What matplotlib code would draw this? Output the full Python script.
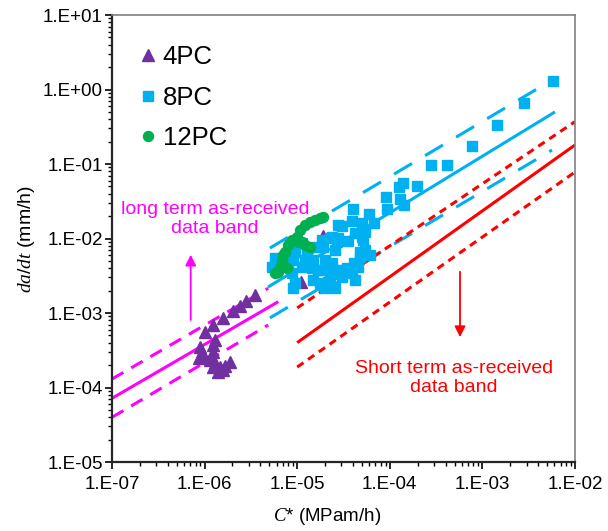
import numpy as np
import matplotlib
matplotlib.use("Agg")
import matplotlib.pyplot as plt
from matplotlib.ticker import FixedLocator, FuncFormatter, LogLocator, NullFormatter

plt.rcParams['font.family'] = ['Liberation Sans', 'DejaVu Sans']
plt.rcParams['mathtext.fontset'] = 'custom'
plt.rcParams['mathtext.it'] = 'Liberation Serif:italic'
plt.rcParams['mathtext.rm'] = 'Liberation Sans'
plt.rcParams['lines.scale_dashes'] = False

# 4PC specimens
c_4pc = [3.50e-6, 2.80e-6, 2.41e-6, 2.01e-6, 1.57e-6, 1.24e-6, 1.01e-6, 1.29e-6,
         1.24e-6, 8.9e-7, 9.3e-7, 8.8e-7, 1.24e-6, 1.19e-6, 1.29e-6, 1.24e-6,
         1.47e-6, 1.59e-6, 1.88e-6, 1.66e-6, 1.41e-6, 1.14e-6, 9.7e-7, 1.10e-5, 1.90e-5]
dadt_4pc = [1.75e-3, 1.46e-3, 1.24e-3, 1.06e-3, 8.7e-4, 7.0e-4, 5.6e-4, 4.3e-4,
            3.7e-4, 3.5e-4, 3.0e-4, 2.5e-4, 3.0e-4, 2.5e-4, 2.1e-4, 1.87e-4,
            1.87e-4, 1.72e-4, 2.18e-4, 1.94e-4, 1.63e-4, 2.34e-4, 2.6e-4, 2.6e-3, 1.08e-2]

# 8PC specimens
c_8pc = [5.74e-3, 2.79e-3, 1.45e-3, 7.65e-4, 2.79e-4, 4.18e-4, 1.38e-4, 1.26e-4,
         1.97e-4, 9.1e-5, 1.28e-4, 1.41e-4, 9.4e-5, 3.97e-5, 6.01e-5, 6.70e-5,
         3.08e-5, 3.95e-5, 5.18e-5, 3.56e-5, 4.73e-5, 4.13e-5, 3.03e-5, 2.36e-5,
         1.84e-5, 9.08e-6, 2.67e-5, 2.56e-5, 2.45e-5, 3.03e-5, 3.43e-5, 2.56e-5,
         2.0e-5, 2.17e-5, 1.69e-5, 1.49e-5, 1.27e-5, 8.35e-6, 7.71e-6, 1.12e-5,
         1.63e-5, 1.91e-5, 2.26e-5, 4.76e-5, 3.88e-5, 4.98e-5, 2.78e-5, 2.78e-5,
         4.98e-5, 5.40e-5, 1.32e-5, 9.46e-6, 9.08e-6, 1.21e-5, 2.0e-5, 2.36e-5,
         4.57e-5, 2.90e-5, 1.84e-5, 1.44e-5, 8.73e-6, 5.75e-6, 5.31e-6, 8.02e-6,
         9.46e-6, 1.49e-5, 1.76e-5, 2.26e-5, 4.21e-5, 2.36e-5, 1.84e-5, 4.21e-5,
         5.40e-5, 6.11e-5, 1.12e-5]
dadt_8pc = [1.31, 0.659, 0.329, 0.175, 0.0961, 0.0961, 0.0551, 0.0491,
            0.0514, 0.0361, 0.0341, 0.0282, 0.0251, 0.0247, 0.0215, 0.0161,
            0.0146, 0.0173, 9.6e-3, 9.3e-3, 6.5e-3, 4.76e-3, 3.78e-3, 2.25e-3,
            2.38e-3, 2.15e-3, 9.06e-3, 7.01e-3, 3.78e-3, 3.07e-3, 3.98e-3, 2.15e-3,
            2.15e-3, 2.63e-3, 3.78e-3, 5.14e-3, 7.01e-3, 8.63e-3, 6.33e-3, 4.18e-3,
            7.76e-3, 7.76e-3, 1.01e-2, 5.70e-3, 3.41e-3, 0.0160, 0.0152, 1.01e-2,
            0.0106, 7.01e-3, 7.38e-3, 6.65e-3, 5.14e-3, 5.14e-3, 5.14e-3, 4.65e-3,
            4.18e-3, 3.41e-3, 3.78e-3, 3.98e-3, 3.41e-3, 5.42e-3, 4.18e-3, 4.65e-3,
            2.51e-3, 2.77e-3, 2.51e-3, 3.07e-3, 2.77e-3, 0.0106, 9.55e-3, 0.0117,
            0.0123, 6.0e-3, 8.63e-3]

# 12PC specimens
c_12pc = [5.75e-6, 6.25e-6, 6.52e-6, 7.38e-6, 7.71e-6, 6.81e-6, 7.08e-6, 7.38e-6,
          8.0e-6, 9.9e-6, 1.03e-5, 1.07e-5, 1.21e-5, 1.37e-5, 1.56e-5, 1.76e-5,
          1.90e-5, 1.37e-5, 1.21e-5, 1.12e-5, 8.8e-6]
dadt_12pc = [3.41e-3, 3.58e-3, 4.18e-3, 4.18e-3, 3.98e-3, 5.14e-3, 6.0e-3, 6.65e-3,
             8.2e-3, 1.06e-2, 9.1e-3, 1.30e-2, 1.52e-2, 1.66e-2, 1.77e-2, 1.88e-2,
             1.96e-2, 7.7e-3, 8.2e-3, 9.1e-3, 9.5e-3]

# scatter bands: [start, end] for C* and for lower / mean / upper da/dt
lt_c = [1e-7, 6.25e-6]
lt_c_edge = [1e-7, 4.87e-6]
lt_mean = [7.16e-5, 1.42e-3]
lt_upper = [1.30e-4, 2.15e-3]
lt_lower = [3.98e-5, 6.9e-4]

pc8_c = [4.84e-6, 6.08e-3]
pc8_c_edge = [5.08e-6, 5.65e-3]
pc8_mean = [2.23e-3, 0.50]
pc8_upper = [7.45e-3, 1.34]
pc8_lower = [8.6e-4, 0.154]

st_c = [1e-5, 1e-2]
st_mean = [4.0e-4, 0.18]
st_upper = [1.17e-3, 0.37]
st_lower = [1.88e-4, 0.078]

purple = '#7030A0'
blue = '#00B0F0'
green = '#00B050'
magenta = '#FF00FF'
red = '#FF0000'

fig = plt.figure(figsize=(6.08, 5.31), dpi=100)
ax = fig.add_axes([112 / 608, 69 / 531, 463 / 608, 447 / 531])
ax.set_xscale('log')
ax.set_yscale('log')
ax.set_xlim(1e-7, 1e-2)
ax.set_ylim(1e-5, 10)

# bands
ax.plot(lt_c, lt_mean, color=magenta, lw=2.2, solid_capstyle='butt')
ax.plot(lt_c_edge, lt_upper, color=magenta, lw=2.2, dashes=(9.5, 6.5))
ax.plot(lt_c_edge, lt_lower, color=magenta, lw=2.2, dashes=(9.5, 6.5))

ax.plot(pc8_c, pc8_mean, color=blue, lw=2.2, solid_capstyle='butt')
ax.plot(pc8_c_edge, pc8_upper, color=blue, lw=2.2, dashes=(15, 11))
ax.plot(pc8_c_edge, pc8_lower, color=blue, lw=2.2, dashes=(15, 11))

ax.plot(st_c, st_mean, color=red, lw=2.2, solid_capstyle='butt')
ax.plot(st_c, st_upper, color=red, lw=2.2, dashes=(5.5, 4))
ax.plot(st_c, st_lower, color=red, lw=2.2, dashes=(5.5, 4))

# test data
ax.plot(c_4pc, dadt_4pc, ls='none', marker='^', ms=8, color=purple, mec=purple, label='4PC')
ax.plot(c_8pc, dadt_8pc, ls='none', marker='s', ms=7.2, color=blue, mec=blue, label='8PC')
ax.plot(c_12pc, dadt_12pc, ls='none', marker='o', ms=7.2, color=green, mec=green, label='12PC')

# band annotations
ax.annotate('', xy=(7.08e-7, 6.6e-3), xytext=(7.08e-7, 7.4e-4),
            arrowprops=dict(arrowstyle='-|>', color=magenta, lw=1.3, mutation_scale=16))
ax.text(1.29e-6, 1.85e-2, 'long term as-received\ndata band', color=magenta,
        fontsize=14, ha='center', va='center', linespacing=1.15)

ax.annotate('', xy=(5.73e-4, 4.35e-4), xytext=(5.73e-4, 3.9e-3),
            arrowprops=dict(arrowstyle='-|>', color=red, lw=1.3, mutation_scale=16))
ax.text(4.93e-4, 1.36e-4, 'Short term as-received\ndata band', color=red,
        fontsize=14, ha='center', va='center', linespacing=1.15)

# axes
fmt = FuncFormatter(lambda v, p: '1.E{:+03d}'.format(int(round(np.log10(v)))))
ax.xaxis.set_major_locator(FixedLocator([1e-7, 1e-6, 1e-5, 1e-4, 1e-3, 1e-2]))
ax.yaxis.set_major_locator(FixedLocator([1e-5, 1e-4, 1e-3, 1e-2, 1e-1, 1, 10]))
ax.xaxis.set_major_formatter(fmt)
ax.yaxis.set_major_formatter(fmt)
ax.xaxis.set_minor_locator(LogLocator(base=10, subs=np.arange(2, 10), numticks=20))
ax.yaxis.set_minor_locator(LogLocator(base=10, subs=np.arange(2, 10), numticks=20))
ax.xaxis.set_minor_formatter(NullFormatter())
ax.yaxis.set_minor_formatter(NullFormatter())
ax.tick_params(which='major', direction='out', length=5, width=1.2, labelsize=13.5)
ax.tick_params(axis='x', which='major', pad=5)
ax.tick_params(axis='y', which='major', pad=1.5)
ax.tick_params(which='minor', direction='out', length=3, width=1)

for side in ['left', 'bottom']:
    ax.spines[side].set_color('#262626')
    ax.spines[side].set_linewidth(1.6)
for side in ['top', 'right']:
    ax.spines[side].set_color('#808080')
    ax.spines[side].set_linewidth(1.2)

ax.set_xlabel(r'$C$* (MPam/h)', fontsize=13.5)
ax.xaxis.set_label_coords(0.464, -0.098)
ax.set_ylabel(r'$da/dt$ (mm/h)', fontsize=14, labelpad=4)

ax.legend(loc='upper left', bbox_to_anchor=(0.0065, 0.985), frameon=False, fontsize=18.5,
          handlelength=0.8, handletextpad=0.15, labelspacing=0.65, borderaxespad=0.5)

fig.savefig('out.png', dpi=100)
